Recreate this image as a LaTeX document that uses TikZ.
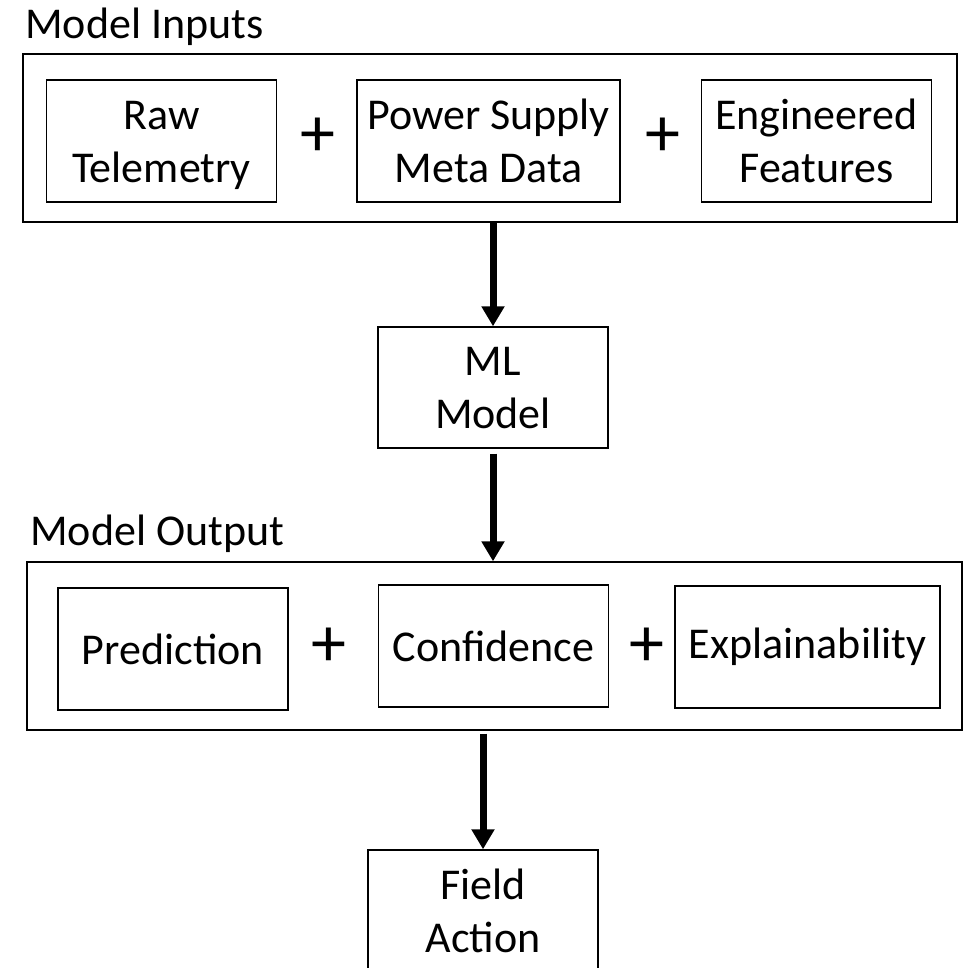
\documentclass[tikz,border=0pt]{standalone}
\usepackage{fontspec}
\setmainfont{Carlito}
\usetikzlibrary{arrows.meta,positioning}

\begin{document}
\begin{tikzpicture}[
    x=1pt, y=-1pt,
    >={Triangle[width=22pt,length=20pt]},
    item/.style={rectangle, draw=black, line width=1.4pt, align=center, inner sep=0pt, minimum width=230pt, minimum height=122pt, font=\fontsize{44}{53}\selectfont},
    twoline/.style={item, text height=91pt, text depth=9pt},
    group/.style={rectangle, draw=black, line width=1.4pt, inner sep=0pt, minimum width=934pt, minimum height=168pt},
    plus/.style={inner sep=0pt, font=\fontsize{70}{70}\selectfont},
    title/.style={anchor=base west, inner sep=0pt, font=\fontsize{44}{53}\selectfont},
    link/.style={->, line width=7pt}
  ]
    \useasboundingbox (0,0) rectangle (968,967);
    \clip (0,0) rectangle (968,967);

    % inputs
    \node[title] (intitle) at (25,38) {Model Inputs};
    \node[group] (inputs) at (490,138) {};
    \node[twoline, minimum width=263pt] (psu) at (488.5,141) {Power Supply\\Meta Data};
    \node[twoline, left=79pt of psu] (raw) {Raw\\Telemetry};
    \node[twoline, right=80pt of psu] (eng) {Engineered\\Features};
    \node[plus] (plus1) at (318,137) {+};
    \node[plus] (plus2) at (663,137) {+};

    \node[twoline, minimum height=121pt] (ml) at (493,387.5) {ML\\Model};

    % outputs
    \node[title] (outtitle) at (30,545) {Model Output};
    \node[group, minimum width=935pt] (outputs) at (494.5,646) {};
    \node[item] (pred) at (173,649) {Prediction};
    \node[item] (conf) at (493.5,646) {Confidence};
    \node[item, minimum width=265pt] (expl) at (807.5,647) {Explainability};
    \node[plus] (plus3) at (329,647) {+};
    \node[plus] (plus4) at (647,647) {+};

    \node[twoline] (field) at (483,911) {Field\\Action};

    \draw[link] (inputs.south -| ml.north) -- (ml.north);
    \draw[link] ([yshift=-5pt]ml.south) -- (outputs.north -| ml.south);
    \draw[link] ([yshift=-3pt]outputs.south -| field.north) -- (field.north);
  \end{tikzpicture}
\end{document}
